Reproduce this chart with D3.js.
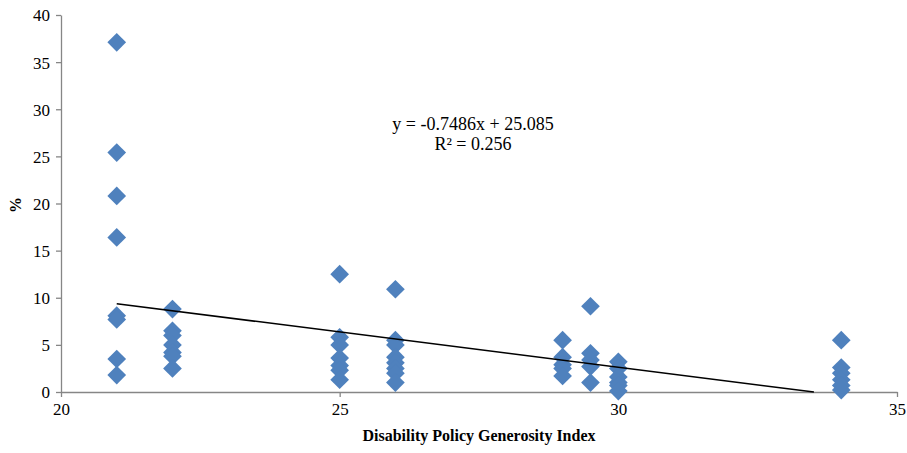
<!DOCTYPE html>
<html>
<head>
<meta charset="utf-8">
<script src="https://cdn.jsdelivr.net/npm/d3@7"></script>
<style>
  body { margin: 0; background: #fff; }
  text { font-family: "Liberation Serif", "Times New Roman", serif; }
</style>
</head>
<body>
<div id="chart"></div>
<script>
// generosity index of each country group and the % values
var index = [21, 21, 21, 21, 21, 21, 21, 21,
             22, 22, 22, 22, 22, 22, 22,
             25, 25, 25, 25, 25, 25, 25,
             26, 26, 26, 26, 26, 26, 26, 26,
             29, 29, 29, 29, 29,
             29.5, 29.5, 29.5, 29.5, 29.5,
             30, 30, 30, 30, 30, 30,
             34, 34, 34, 34, 34, 34];
var pct = [37.1, 25.4, 20.8, 16.4, 8.1, 7.7, 3.5, 1.8,
           8.8, 6.5, 6.0, 5.0, 4.2, 3.8, 2.5,
           12.5, 5.8, 5.0, 3.6, 2.8, 2.3, 1.3,
           10.9, 5.5, 5.0, 3.7, 3.1, 2.5, 2.0, 1.0,
           5.5, 3.7, 2.9, 2.5, 1.7,
           9.1, 4.1, 3.4, 2.7, 1.0,
           3.2, 2.5, 1.6, 1.0, 0.7, 0.1,
           5.5, 2.6, 2.0, 1.3, 0.7, 0.2];
var xTicks = [20, 25, 30, 35];
var yTicks = [0, 5, 10, 15, 20, 25, 30, 35, 40];
var slope = -0.7486, intercept = 25.085;
var eqLabel = ["y = -0.7486x + 25.085", "R\u00b2 = 0.256"];

var W = 907, H = 453;
var svg = d3.select("#chart").append("svg")
    .attr("width", W)
    .attr("height", H);

var x = d3.scaleLinear().domain([20, 35]).range([61, 897]);
var y = d3.scaleLinear().domain([0, 40]).range([392, 15]);

// axes
var xAxis = svg.append("g")
    .attr("transform", "translate(0," + y(0) + ")")
    .call(d3.axisBottom(x).tickValues(xTicks).tickSize(5).tickSizeOuter(0));
var yAxis = svg.append("g")
    .attr("transform", "translate(" + x(20) + ",0)")
    .call(d3.axisLeft(y).tickValues(yTicks).tickSize(5).tickSizeOuter(0));

[xAxis, yAxis].forEach(function(ax){
    ax.selectAll("path, line").attr("stroke", "#868686").attr("stroke-width", 1.3);
    ax.selectAll("text")
      .style("font-family", "Liberation Serif, Times New Roman, serif")
      .style("font-size", "17px")
      .attr("fill", "#000");
});
xAxis.selectAll("text").attr("y", 8).attr("dy", "0.9em");
yAxis.selectAll("text").attr("x", -11).attr("dy", "0.35em");

// points
var data = index.map(function(d, i){ return {x: d, y: pct[i]}; });
svg.append("g")
  .selectAll("path")
  .data(data)
  .enter()
  .append("path")
    .attr("d", d3.symbol().type(d3.symbolSquare).size(175))
    .attr("transform", function(d){ return "translate(" + x(d.x) + "," + y(d.y) + ") rotate(45)"; })
    .attr("fill", "#4F81BD");

// linear trendline, stops where it meets the x axis
var x0 = 21, x1 = -intercept / slope;
svg.append("line")
    .attr("x1", x(x0)).attr("y1", y(slope * x0 + intercept))
    .attr("x2", x(x1)).attr("y2", y(0))
    .attr("stroke", "#000")
    .attr("stroke-width", 1.5);

svg.selectAll(".eq")
  .data(eqLabel)
  .enter()
  .append("text")
    .attr("class", "eq")
    .attr("x", 473)
    .attr("y", function(d, i){ return 130 + i * 20; })
    .attr("text-anchor", "middle")
    .style("font-size", "18px")
    .text(function(d){ return d; });

// axis titles
svg.append("text")
    .attr("x", 479)
    .attr("y", 441)
    .attr("text-anchor", "middle")
    .style("font-size", "16px")
    .style("font-weight", "bold")
    .text("Disability Policy Generosity Index");

svg.append("text")
    .attr("transform", "translate(21,205) rotate(-90)")
    .attr("text-anchor", "middle")
    .style("font-size", "16px")
    .style("font-weight", "bold")
    .text("%");
</script>
</body>
</html>
